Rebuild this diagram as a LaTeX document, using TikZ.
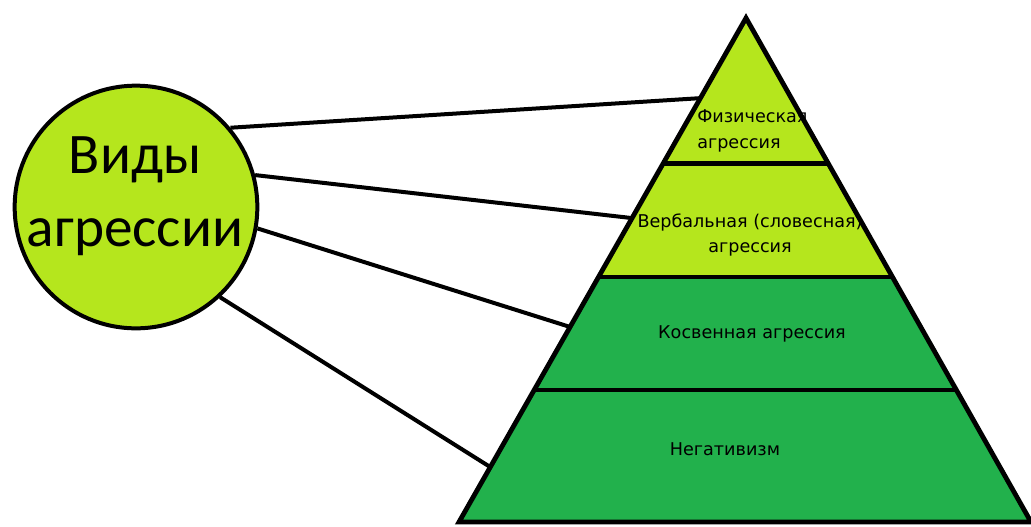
\documentclass[tikz,border=0pt]{standalone}
\usepackage{fontspec}
\setmainfont{Carlito}
\newfontfamily\levelfont{DejaVu Sans}
\usetikzlibrary{calc}
\definecolor{aggrlime}{HTML}{B5E61D}
\definecolor{aggrgreen}{HTML}{22B14C}

\begin{document}
\begin{tikzpicture}[
    x=0.75pt, y=-0.75pt,
    outline/.style={draw=black, line width=3.6pt, line join=miter},
    link/.style={draw=black, line width=3pt},
    kinds/.style={circle, fill=aggrlime, draw=black, line width=3pt, minimum size=182pt, inner sep=0pt},
    title/.style={font=\fontsize{43}{55}\selectfont, align=center, inner sep=0pt},
    lvl/.style={font=\levelfont\fontsize{13.2}{19}\selectfont, inner sep=0pt, text=black},
]
\useasboundingbox (0,0) rectangle (1031,526);

% pyramid corners
\coordinate (apex) at (746,18);
\coordinate (bl) at (459,522);
\coordinate (br) at (1031,522);

% bands
\fill[aggrlime] (apex) -- ($(apex)!0.514!(br)$) -- ($(apex)!0.514!(bl)$) -- cycle;
\fill[aggrgreen] ($(apex)!0.514!(bl)$) -- ($(apex)!0.514!(br)$) -- (br) -- (bl) -- cycle;
\draw[outline] (apex) -- (br) -- (bl) -- cycle;
\draw[outline] ($(apex)!0.288!(bl)$) -- ($(apex)!0.288!(br)$);
\draw[outline] ($(apex)!0.514!(bl)$) -- ($(apex)!0.514!(br)$);
\draw[outline] ($(apex)!0.738!(bl)$) -- ($(apex)!0.738!(br)$);

% level labels
\node[lvl, align=left, anchor=west] (phys) at (697,131) {Физическая\\агрессия};
\node[lvl, align=center] (verb) at (750,235) {Вербальная (словесная)\\агрессия};
\node[lvl] (indir) at (752,334) {Косвенная агрессия};
\node[lvl] (neg) at (725,449) {Негативизм};

% circle
\node[kinds] (circ) at (136,207) {};
\node[title] (head) at (135,196) {Виды\\агрессии};

% connectors to the pyramid edge
\coordinate (e1) at ($(apex)!0.159!(bl)$);
\coordinate (e2) at ($(apex)!0.397!(bl)$);
\coordinate (e3) at ($(apex)!0.613!(bl)$);
\coordinate (e4) at ($(apex)!0.891!(bl)$);
\draw[link] (circ.40) -- (e1);
\draw[link] (circ.15) -- (e2);
\draw[link] (circ.-10) -- (e3);
\draw[link] (circ.-47) -- (e4);
\end{tikzpicture}
\end{document}
